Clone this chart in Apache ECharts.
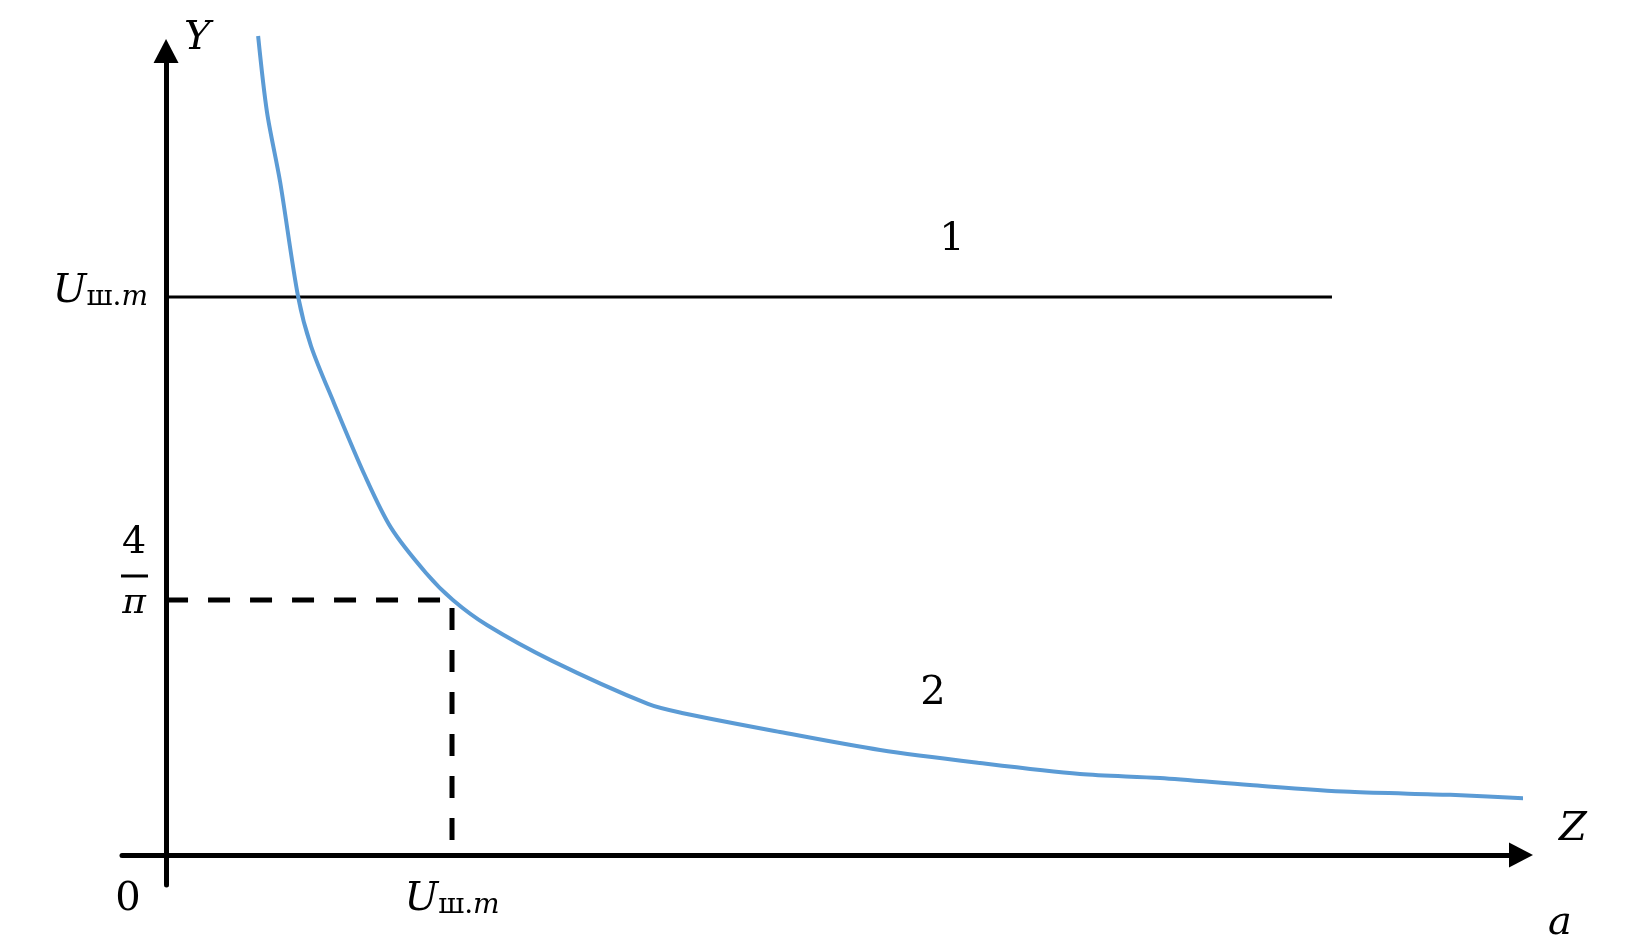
<!DOCTYPE html>
<html>
<head>
<meta charset="utf-8">
<script src="https://cdn.jsdelivr.net/npm/echarts@6/dist/echarts.min.js"></script>
<style>
html,body{margin:0;padding:0;background:#fff;}
#chart{width:1629px;height:951px;}
</style>
</head>
<body>
<div id="chart"></div>
<script>
// Curve 2 (Y vs Z), values in chart units (x: Z / U_ш.m, y: Y)
const curveX = [0.322, 0.353, 0.399, 0.462, 0.507, 0.587, 0.696, 0.787, 0.909, 1.003, 1.122, 1.350, 1.685, 1.804, 2.147, 2.497, 2.846, 3.196, 3.476, 3.790, 4.140, 4.490, 4.794];
const curveY = [4.089, 3.709, 3.360, 2.786, 2.541, 2.257, 1.892, 1.633, 1.408, 1.273, 1.148, 0.969, 0.754, 0.709, 0.614, 0.524, 0.459, 0.404, 0.384, 0.349, 0.315, 0.300, 0.280];
// Line 1: constant level U_ш.m
const line1X = [0, 4.077];
const levelU = 2.786;
// Reference values
const fourOverPi = 1.273;
const uX = 1.0;
// Tick labels
const xTickValues = [0, uX];
const yTickValues = [levelU, fourOverPi];
const lineLabels = ['1', '2'];
const axisNames = ['Z', 'Y'];

const FONT = 'DejaVu Serif';

const chart = echarts.init(document.getElementById('chart'), null, {renderer: 'canvas'});

const uRich = {
  u: {fontFamily: FONT, fontStyle: 'italic', fontSize: 40, color: '#000', lineHeight: 46, verticalAlign: 'bottom'},
  s: {fontFamily: FONT, fontSize: 28, color: '#000', lineHeight: 22, verticalAlign: 'bottom'},
  m: {fontFamily: FONT, fontStyle: 'italic', fontSize: 28, color: '#000', lineHeight: 22, verticalAlign: 'bottom'},
  g2: {fontSize: 2, lineHeight: 16}
};

const option = {
  backgroundColor: '#ffffff',
  animation: false,
  title: {
    text: 'a',
    left: 1543,
    top: 899,
    textStyle: {fontFamily: FONT, fontStyle: 'italic', fontWeight: 'normal', fontSize: 40, color: '#000'}
  },
  grid: {left: 122, right: 108, top: 51, bottom: 66, containLabel: false},
  xAxis: {
    type: 'value',
    min: -0.154,
    max: 4.738,
    name: '{z|' + axisNames[0] + '}\n{g| }',
    nameLocation: 'end',
    nameGap: 38,
    nameTextStyle: {
      verticalAlign: 'middle',
      rich: {
        z: {fontFamily: FONT, fontStyle: 'italic', fontSize: 40, color: '#000', lineHeight: 46},
        g: {fontSize: 2, lineHeight: 50}
      }
    },
    axisLine: {show: true, onZero: true, symbol: ['none', 'triangle'], symbolSize: [25, 24], lineStyle: {color: '#000', width: 5}},
    axisTick: {show: false},
    splitLine: {show: false},
    axisLabel: {
      customValues: xTickValues,
      margin: -11,
      formatter: function (v) {
        if (v === 0) return '{z|0}';
        return '{u|U}{s|ш.}{m|m}';
      },
      rich: Object.assign({
        z: {fontFamily: FONT, fontSize: 40, color: '#000', padding: [5, 76, 0, 0], lineHeight: 46}
      }, uRich)
    }
  },
  yAxis: {
    type: 'value',
    min: -0.15,
    max: 4.014,
    name: axisNames[1],
    nameLocation: 'end',
    nameGap: -8,
    nameTextStyle: {fontFamily: FONT, fontStyle: 'italic', fontSize: 40, color: '#000', align: 'left', verticalAlign: 'bottom', padding: [0, 0, 0, 18]},
    axisLine: {show: true, onZero: true, symbol: ['none', 'triangle'], symbolSize: [25, 24], lineStyle: {color: '#000', width: 5}},
    axisTick: {show: false},
    splitLine: {show: false},
    axisLabel: {
      customValues: yTickValues,
      margin: -26,
      formatter: function (v) {
        if (Math.abs(v - levelU) < 1e-6) return '{u|U}{s|ш.}{m|m}\n{g2| }';
        return '{num|4}\n{bar| }\n{den|π}\n{gap| }';
      },
      rich: Object.assign({
        num: {fontFamily: FONT, fontSize: 38, color: '#000', width: 28, align: 'center', lineHeight: 54},
        bar: {width: 27, height: 3, backgroundColor: '#000', lineHeight: 12, fontSize: 2},
        den: {fontFamily: FONT, fontStyle: 'italic', fontSize: 36, color: '#000', width: 28, align: 'center', lineHeight: 44},
        gap: {fontSize: 2, lineHeight: 58}
      }, uRich)
    }
  },
  series: [
    {
      name: 'line1',
      type: 'line',
      data: line1X.map(x => [x, levelU]),
      showSymbol: false,
      symbol: 'none',
      lineStyle: {color: '#000', width: 3},
      z: 3,
      markPoint: {
        symbol: 'circle',
        symbolSize: 0,
        label: {show: true, position: 'inside', formatter: lineLabels[0], fontFamily: FONT, fontSize: 40, color: '#000'},
        data: [{coord: [2.748, 3.07]}]
      }
    },
    {
      name: 'dashed',
      type: 'line',
      data: [[0, fourOverPi], [uX, fourOverPi], [uX, 0]],
      showSymbol: false,
      symbol: 'none',
      lineStyle: {color: '#000', width: 5, type: [22, 20]},
      z: 3
    },
    {
      name: 'curve2',
      type: 'line',
      data: curveX.map((x, i) => [x, curveY[i]]),
      showSymbol: false,
      symbol: 'none',
      clip: false,
      smooth: 0.3,
      lineStyle: {color: '#5b9bd5', width: 4},
      z: 4,
      markPoint: {
        symbol: 'circle',
        symbolSize: 0,
        label: {show: true, position: 'inside', formatter: lineLabels[1], fontFamily: FONT, fontSize: 40, color: '#000'},
        data: [{coord: [2.682, 0.804]}]
      }
    }
  ]
};
chart.setOption(option);
</script>
</body>
</html>
